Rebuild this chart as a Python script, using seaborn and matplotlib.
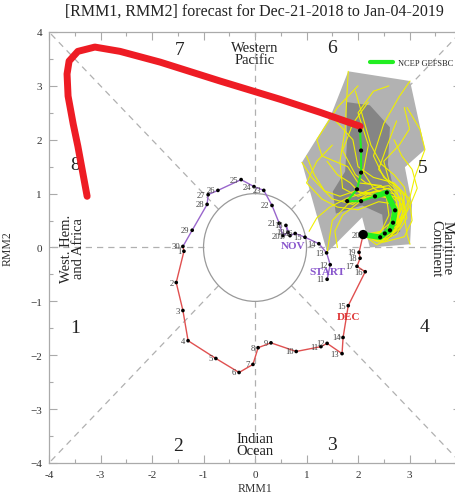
import numpy as np
import pandas as pd
import seaborn as sns
import matplotlib.pyplot as plt
from matplotlib.lines import Line2D
from matplotlib.patches import Polygon, Circle

# observed RMM, Nov 11-30
nov_days = list(range(11, 31))
nov_x = [1.40, 1.46, 1.39, 1.24, 0.97, 0.78, 0.68, 0.60, 0.64, 0.54,
         0.47, 0.33, 0.17, -0.02, -0.27, -0.72, -0.91, -0.93, -1.22, -1.40]
nov_y = [-0.59, -0.32, -0.10, 0.07, 0.19, 0.26, 0.22, 0.41, 0.28, 0.22,
         0.45, 0.78, 1.06, 1.13, 1.26, 1.06, 0.98, 0.80, 0.32, 0.02]

# observed RMM, Dec 1-20
dec_days = list(range(1, 21))
dec_x = [-1.38, -1.53, -1.40, -1.30, -0.76, -0.31, -0.04, 0.06, 0.31, 0.80,
         1.28, 1.40, 1.69, 1.71, 1.81, 2.14, 1.98, 2.04, 2.02, 2.10]
dec_y = [-0.07, -0.65, -1.17, -1.73, -2.06, -2.32, -2.17, -1.86, -1.77, -1.93,
         -1.84, -1.78, -1.97, -1.67, -1.08, -0.45, -0.35, -0.20, -0.09, 0.24]

# GEFS bias-corrected ensemble mean
mean_x = [2.10, 2.43, 2.52, 2.62, 2.68, 2.72, 2.56, 2.33, 2.06, 1.79, 1.98, 2.06, 2.06, 2.04]
mean_y = [0.24, 0.19, 0.26, 0.32, 0.46, 0.69, 1.02, 0.95, 0.86, 0.86, 1.08, 1.39, 1.80, 2.17]

# thick red forecast line
red_x = [2.04, 1.26, 0.49, -0.68, -1.84, -2.62, -3.11, -3.44, -3.61, -3.65, -3.63, -3.53, -3.44, -3.26]
red_y = [2.25, 2.51, 2.75, 3.09, 3.44, 3.64, 3.72, 3.64, 3.46, 3.22, 2.81, 2.29, 1.88, 0.95]

# ensemble members
members = [
    ([2.10, 2.45, 2.65, 2.80, 2.70, 2.35, 2.00, 1.70, 1.65, 1.75, 1.81],
     [0.24, 0.18, 0.35, 0.65, 1.00, 1.05, 0.95, 1.10, 1.60, 2.20, 3.27]),
    ([2.10, 2.50, 2.75, 2.85, 2.60, 2.20, 1.90, 1.50, 1.10, 0.91],
     [0.24, 0.20, 0.45, 0.80, 1.10, 1.00, 0.80, 0.90, 1.30, 1.58]),
    ([2.10, 2.40, 2.70, 2.90, 2.80, 2.50, 2.30, 2.50, 2.80, 3.01],
     [0.24, 0.15, 0.30, 0.70, 1.10, 1.30, 1.70, 2.30, 2.80, 3.09]),
    ([2.10, 2.50, 2.80, 3.00, 3.10, 3.30, 3.20, 2.95],
     [0.24, 0.25, 0.50, 0.90, 1.30, 1.82, 2.20, 2.60]),
    ([2.10, 2.45, 2.60, 2.55, 2.20, 1.80, 1.50, 1.40],
     [0.24, 0.30, 0.60, 0.95, 0.95, 0.80, 0.50, -0.09]),
    ([2.10, 2.50, 2.90, 3.05, 3.00, 2.70, 2.30, 2.00, 1.90, 1.50],
     [0.24, 0.10, 0.20, 0.50, 0.90, 1.20, 1.30, 1.50, 2.00, 2.42]),
    ([2.10, 2.40, 2.75, 2.90, 2.95, 3.01],
     [0.24, 0.20, 0.40, 0.60, 0.25, 0.06]),
    ([2.10, 2.55, 2.80, 2.75, 2.40, 2.00, 1.60, 1.30, 1.00, 1.20, 1.50],
     [0.24, 0.15, 0.35, 0.80, 0.85, 0.70, 0.75, 0.90, 1.20, 1.60, 1.90]),
    ([2.10, 2.45, 2.70, 2.65, 2.30, 2.10, 2.20, 2.00, 2.30, 2.60],
     [0.24, 0.20, 0.50, 0.90, 1.10, 1.40, 1.90, 2.50, 2.90, 3.00]),
    ([2.10, 2.50, 2.85, 2.90, 2.60, 2.50, 2.80, 3.00, 2.90],
     [0.24, 0.28, 0.55, 1.00, 1.25, 1.60, 1.90, 2.20, 2.60]),
    ([2.10, 2.40, 2.75, 2.95, 2.85, 2.50, 2.10, 1.70, 1.55, 1.60],
     [0.24, 0.10, 0.25, 0.55, 0.90, 1.00, 0.90, 0.60, 0.30, 0.00]),
    ([2.10, 2.50, 2.70, 2.75, 2.45, 2.00, 1.80, 1.30, 1.20, 1.60, 2.00],
     [0.24, 0.22, 0.60, 0.85, 1.15, 1.20, 1.50, 1.70, 2.00, 2.60, 3.00]),
    ([2.10, 2.35, 2.60, 2.78, 2.82, 2.60, 2.30, 2.05, 1.85, 1.60, 1.40],
     [0.24, 0.12, 0.28, 0.55, 0.92, 1.15, 1.10, 1.00, 1.20, 1.35, 1.60]),
    ([2.10, 2.42, 2.68, 2.85, 2.75, 2.45, 2.15, 1.95, 1.70, 1.90, 2.20],
     [0.24, 0.16, 0.38, 0.72, 1.05, 1.12, 1.20, 1.35, 1.80, 2.30, 2.70]),
    ([2.10, 2.48, 2.74, 2.92, 2.88, 2.62, 2.40, 2.55, 2.75],
     [0.24, 0.14, 0.34, 0.66, 0.98, 1.18, 1.45, 1.85, 2.35]),
    ([2.10, 2.38, 2.62, 2.70, 2.50, 2.15, 1.80, 1.45, 1.20, 1.05],
     [0.24, 0.26, 0.45, 0.78, 1.00, 1.02, 0.92, 0.75, 0.55, 0.30]),
    ([2.10, 2.52, 2.82, 2.98, 2.90, 2.70, 2.45, 2.25, 2.10, 1.95],
     [0.24, 0.20, 0.42, 0.78, 1.12, 1.35, 1.55, 1.90, 2.40, 2.90]),
    ([2.10, 2.44, 2.66, 2.74, 2.58, 2.25, 1.95, 1.65, 1.35, 1.15, 1.00],
     [0.24, 0.22, 0.42, 0.70, 0.92, 0.98, 1.05, 0.95, 1.05, 1.35, 1.70]),
    ([2.10, 2.36, 2.58, 2.80, 3.00, 3.15, 3.05, 2.85, 2.70],
     [0.24, 0.05, 0.15, 0.40, 0.75, 1.10, 1.45, 1.70, 2.00]),
]

# plume envelopes
outer_x = [1.81, 3.01, 3.30, 2.91, 3.05, 3.01, 2.23, 2.08, 1.40, 0.91, 1.46]
outer_y = [3.27, 3.09, 1.82, 1.49, 0.80, 0.06, 0.00, 0.56, -0.09, 1.58, 2.42]
inner_x = [1.77, 2.23, 2.62, 2.58, 2.74, 2.82, 2.52, 2.47, 2.08, 1.57, 1.51, 1.75, 1.79]
inner_y = [2.70, 2.64, 2.23, 1.54, 0.89, 0.30, 0.11, 0.61, 0.78, 0.63, 1.04, 1.41, 2.01]

phase_num = ['1', '2', '3', '4', '5', '6', '7', '8']
phase_x = [-3.50, -1.49, 1.50, 3.30, 3.26, 1.50, -1.46, -3.50]
phase_y = [-1.49, -3.68, -3.66, -1.47, 1.49, 3.72, 3.68, 1.54]

sns.set_theme(style='white')
plt.rcParams['font.family'] = ['Liberation Serif', 'DejaVu Serif']

fig = plt.figure(figsize=(4.56, 5.02), dpi=100)
ax = fig.add_axes([0.1075, 0.0757, 0.9035, 0.8586])
ax.set_xlim(-4, 4)
ax.set_ylim(-4, 4)

# guide lines
gc = '#b0b0b0'
s = 1 / np.sqrt(2)
for sx, sy in [(1, 1), (1, -1), (-1, 1), (-1, -1)]:
    ax.plot([sx * s, sx * 4], [sy * s, sy * 4], ls=(0, (5, 4)), color=gc, lw=0.9, zorder=1)
for sx, sy in [(1, 0), (-1, 0), (0, 1), (0, -1)]:
    ax.plot([sx, sx * 4], [sy, sy * 4], ls=(0, (5, 4)), color=gc, lw=0.9, zorder=1)
ax.add_patch(Circle((0, 0), 1, fill=False, ec='#999999', lw=0.9, zorder=1))

# plume
ax.add_patch(Polygon(np.column_stack([outer_x, outer_y]), closed=True,
                     fc='#b2b2b2', ec='none', zorder=2))
ax.add_patch(Polygon(np.column_stack([inner_x, inner_y]), closed=True,
                     fc='#858585', ec='none', zorder=2))

ens = pd.concat([pd.DataFrame({'x': mx, 'y': my, 'member': i})
                 for i, (mx, my) in enumerate(members)], ignore_index=True)
sns.lineplot(data=ens, x='x', y='y', units='member', estimator=None, sort=False,
             color='#f0f000', lw=0.8, ax=ax, zorder=3)

# observed trajectory
nov = pd.DataFrame({'x': nov_x, 'y': nov_y, 'day': nov_days})
dec = pd.DataFrame({'x': [nov_x[-1]] + dec_x, 'y': [nov_y[-1]] + dec_y})
sns.lineplot(data=nov, x='x', y='y', sort=False, estimator=None, color='#9966cc', lw=1.0, ax=ax, zorder=4)
sns.lineplot(data=dec, x='x', y='y', sort=False, estimator=None, color='#e05050', lw=1.0, ax=ax, zorder=4)
sns.scatterplot(x=nov_x + dec_x, y=nov_y + dec_y, color='black', s=7, edgecolor='none', ax=ax, zorder=5)
for d, x, y in zip(nov_days + dec_days, nov_x + dec_x, nov_y + dec_y):
    ax.annotate(str(d), (x, y), xytext=(-2, 0), textcoords='offset points',
                ha='right', va='center', fontsize=6.2, color='#444444', zorder=5)
ax.text(0.74, 0.04, 'NOV', color='#8855cc', fontsize=8, fontweight='bold', ha='center', va='center', zorder=6)
ax.text(1.40, -0.45, 'START', color='#8855cc', fontsize=8, fontweight='bold', ha='center', va='center', zorder=6)
ax.text(1.81, -1.28, 'DEC', color='#dd3333', fontsize=8, fontweight='bold', ha='center', va='center', zorder=6)

# forecasts
sns.lineplot(x=red_x, y=red_y, sort=False, estimator=None, color='#ee1c24', lw=5,
             solid_capstyle='round', ax=ax, zorder=6)
sns.lineplot(x=mean_x[:8], y=mean_y[:8], sort=False, estimator=None, color='#22ee22', lw=4, ax=ax, zorder=6)
sns.lineplot(x=mean_x[7:], y=mean_y[7:], sort=False, estimator=None, color='#22ee22', lw=1.5, ax=ax, zorder=6)
sns.scatterplot(x=mean_x[1:], y=mean_y[1:], color='black', s=9, edgecolor='none', ax=ax, zorder=7)
sns.scatterplot(x=mean_x[:1], y=mean_y[:1], color='black', s=45, edgecolor='none', ax=ax, zorder=7)

# phase labels
for t, x, y in zip(phase_num, phase_x, phase_y):
    ax.text(x, y, t, fontsize=14, ha='center', va='center', color='#222222')
ax.text(0, 3.6, 'Western\nPacific', fontsize=10.5, ha='center', va='center', linespacing=0.9, color='#222222')
ax.text(0, -3.65, 'Indian\nOcean', fontsize=10.5, ha='center', va='center', linespacing=0.9, color='#222222')
ax.text(-3.55, 0, 'West. Hem.\nand Africa', fontsize=10.5, rotation=90, ha='center', va='center',
        linespacing=0.9, color='#222222')
ax.text(3.62, 0, 'Maritime\nContinent', fontsize=10.5, rotation=-90, ha='center', va='center',
        linespacing=0.9, color='#222222')

ax.legend(handles=[Line2D([], [], color='#22ee22', lw=3)], labels=['NCEP GEFSBC'],
          loc='upper right', bbox_to_anchor=(0.99, 0.945), frameon=False, fontsize=6,
          handlelength=2.8, handletextpad=0.6, borderaxespad=0)

# axes styling
ax.set_xticks(range(-4, 5))
ax.set_xticklabels([str(v) for v in range(-4, 4)] + [''])
ax.set_yticks(range(-4, 5))
ax.set_xticks(np.arange(-3.5, 4, 1), minor=True)
ax.set_yticks(np.arange(-3.5, 4, 1), minor=True)
ax.tick_params(which='both', direction='in', top=True, right=True, bottom=True, left=True,
               color='#aaaaaa', labelsize=8, labelcolor='#333333', width=0.8)
ax.tick_params(which='major', length=6, pad=5)
ax.tick_params(which='minor', length=3)
for sp in ax.spines.values():
    sp.set_color('#aaaaaa')
    sp.set_linewidth(0.9)
ax.set_xlabel('RMM1', fontsize=8.5, color='#333333', labelpad=2)
ax.set_ylabel('RMM2', fontsize=8.5, color='#333333', labelpad=12)
fig.text(0.558, 0.976, '[RMM1, RMM2] forecast for Dec-21-2018 to Jan-04-2019',
         ha='center', va='center', fontsize=11.5, color='#222222')

fig.savefig('out.png', dpi=100)
